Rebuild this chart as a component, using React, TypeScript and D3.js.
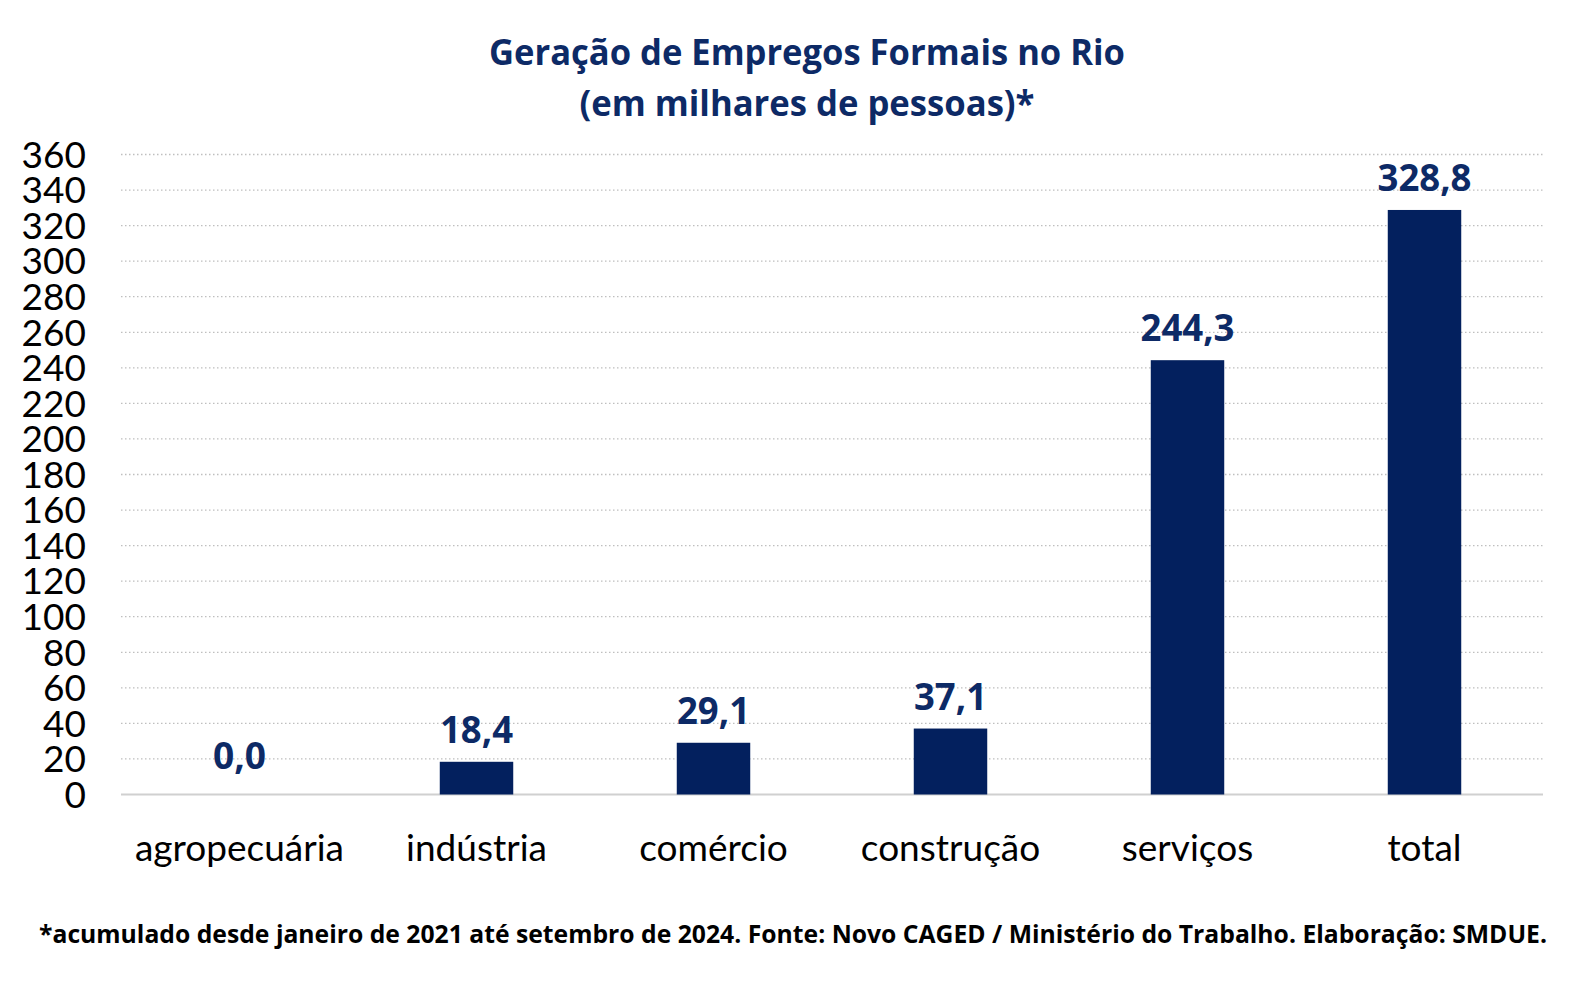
import React from "react";
import * as d3 from "d3";

const categories = ["agropecuária", "indústria", "comércio", "construção", "serviços", "total"];
const values = [0.0, 18.4, 29.1, 37.1, 244.3, 328.8];
const yTicks = [0, 20, 40, 60, 80, 100, 120, 140, 160, 180, 200, 220, 240, 260, 280, 300, 320, 340, 360];
const titleLines = ["Geração de Empregos Formais no Rio", "(em milhares de pessoas)*"];
const footnote = "*acumulado desde janeiro de 2021 até setembro de 2024. Fonte: Novo CAGED / Ministério do Trabalho. Elaboração: SMDUE.";

const W = 1579;
const H = 983;
const NAVY = "#03205e";
const LABEL = "#0d2a66";

export default function App() {
  const left = 121;
  const right = 1543;
  const top = 154.5;
  const bottom = 794.5;

  const x = d3.scaleBand<string>().domain(categories).range([left, right]).paddingInner(0.69).paddingOuter(0.345);
  const y = d3.scaleLinear().domain([0, 360]).range([bottom, top]);
  const fmt = (v: number) => v.toFixed(1).replace(".", ",");
  const band = (right - left) / categories.length;
  const labelLen = (s: string) => (s.length === 5 ? 94 : s.length === 4 ? 73 : 53);

  return (
    <svg width={W} height={H} style={{ position: "absolute", left: 0, top: 0, background: "#fff" }}>
      <rect x={0} y={0} width={W} height={H} fill="#fff" />
      {titleLines.map((t, i) => (
        <text key={t} x={807} y={65 + i * 51} textAnchor="middle" fontFamily="'Open Sans', sans-serif" fontWeight={700} fontSize={35} fill={LABEL}
          textLength={i === 0 ? 636 : 455} lengthAdjust="spacingAndGlyphs">{t}</text>
      ))}
      {yTicks.filter((t) => t > 0).map((t) => (
        <line key={"g" + t} x1={left} x2={right} y1={y(t)} y2={y(t)} stroke="#bfbfbf" strokeWidth={1.3} strokeDasharray="1.5,2.5" />
      ))}
      <line x1={left} x2={right} y1={bottom} y2={bottom} stroke="#d0d0d0" strokeWidth={2} />
      {yTicks.map((t) => (
        <text key={"t" + t} x={86} y={y(t)} dy="0.36em" textAnchor="end" fontFamily="Lato, sans-serif" fontSize={37} fill="#000">{t}</text>
      ))}
      {categories.map((c, i) => (
        <g key={c}>
          <rect x={x(c)} y={y(values[i])} width={x.bandwidth()} height={bottom - y(values[i])} fill={NAVY} />
          <text x={left + band * (i + 0.5)} y={y(values[i]) - (values[i] === 0 ? 26 : 19)} textAnchor="middle" fontFamily="'Open Sans', sans-serif" fontWeight={700} fontSize={38} fill={LABEL}
            textLength={labelLen(fmt(values[i]))} lengthAdjust="spacingAndGlyphs">{fmt(values[i])}</text>
          <text x={left + band * (i + 0.5)} y={861} textAnchor="middle" fontFamily="Lato, sans-serif" fontSize={37} fill="#000">{c}</text>
        </g>
      ))}
      <text x={793} y={943} textAnchor="middle" fontFamily="'Open Sans', sans-serif" fontWeight={700} fontSize={25} fill="#000"
        textLength={1508} lengthAdjust="spacingAndGlyphs">{footnote}</text>
    </svg>
  );
}
